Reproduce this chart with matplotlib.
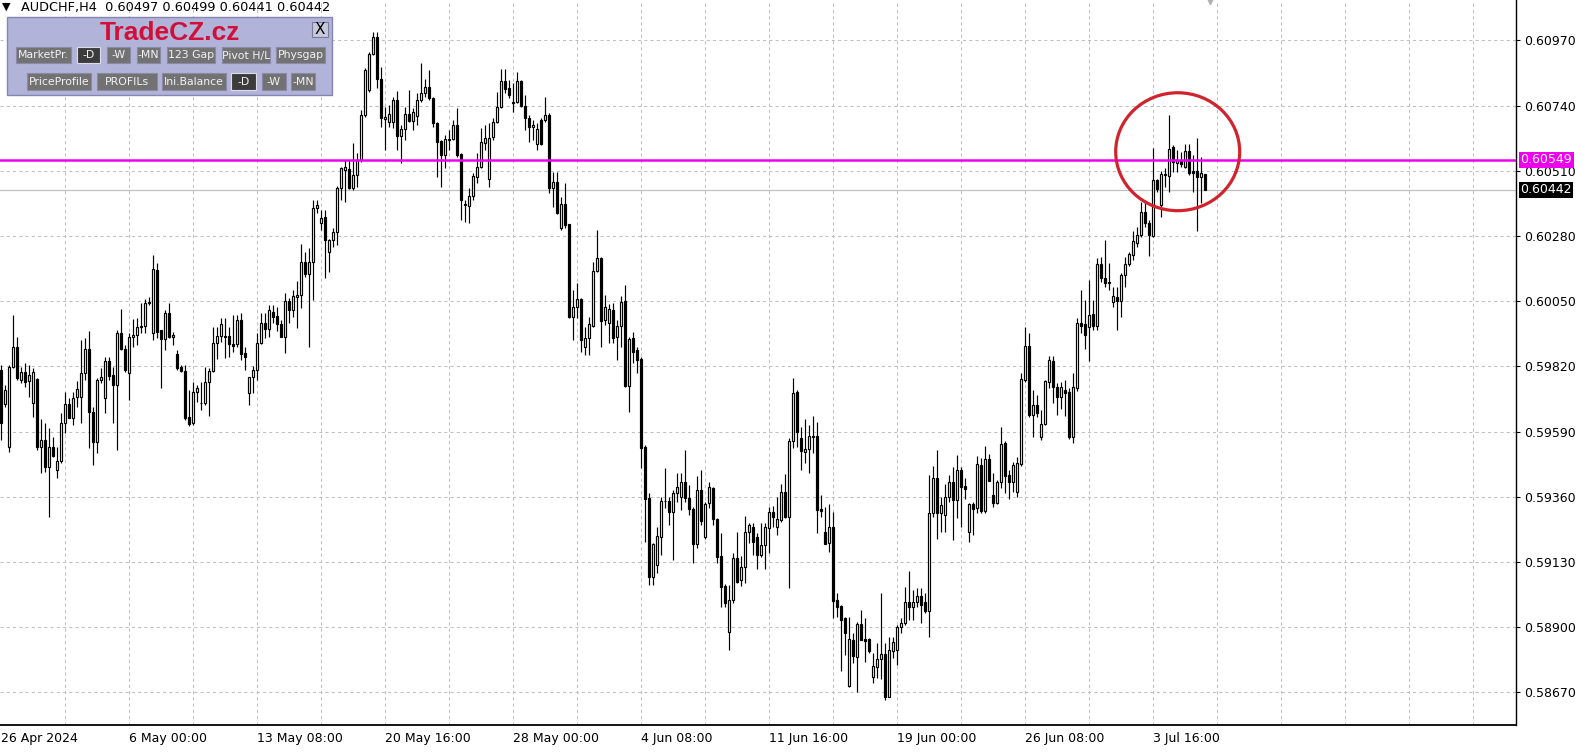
import numpy as np
import pandas as pd
import matplotlib
matplotlib.use("Agg")
import matplotlib.pyplot as plt
from matplotlib.patches import Ellipse, Rectangle

# AUDCHF H4 candles, prices in points (1 point = 0.00001)
opens = [
    59807, 59687, 59535, 59817, 59888, 59772, 59800, 59768, 59690, 59775,
    59535, 59560, 59465, 59535, 59454, 59486, 59620, 59687, 59638, 59712,
    59712, 59796, 59881, 59659, 59553, 59772, 59708, 59838, 59789, 59754,
    59937, 59881, 59796, 59923, 59930, 59958, 59962, 60043, 59937, 60160,
    59948, 59916, 60008, 59923, 59863, 59817, 59803, 59641, 59620, 59729,
    59690, 59690, 59765, 59803, 59902, 59927, 59927, 59927, 59899, 59899,
    59983, 59867, 59726, 59782, 59807, 59902, 59973, 59951, 60011, 59997,
    59969, 59923, 60050, 60019, 60064, 60071, 60188, 60146, 60188, 60378,
    60325, 60347, 60223, 60266, 60294, 60449, 60512, 60516, 60449, 60495,
    60548, 60706, 60795, 60922, 60982, 60833, 60692, 60682, 60682, 60759,
    60632, 60657, 60710, 60685, 60703, 60759, 60784, 60805, 60766, 60678,
    60615, 60565, 60618, 60622, 60671, 60569, 60389, 60385, 60421, 60488,
    60523, 60608, 60481, 60629, 60682, 60735, 60826, 60802, 60752, 60752,
    60826, 60738, 60696, 60664, 60604, 60689, 60689, 60706, 60449, 60470,
    60308, 60392, 60322, 59994, 60029, 60057, 59888, 59920, 59962, 60156,
    60202, 59983, 59973, 60019, 59923, 59962, 60050, 59750, 59920, 59877,
    59846, 59535, 59355, 59077, 59119, 59218, 59345, 59345, 59306, 59373,
    59359, 59412, 59355, 59317, 59193, 59383, 59218, 59338, 59391, 59281,
    59151, 59045, 58882, 58995, 59144, 59066, 59112, 59235, 59253, 59218,
    59154, 59190, 59249, 59306, 59253, 59278, 59376, 59288, 59556, 59729,
    59567, 59518, 59528, 59574, 59574, 59317, 59235, 59197, 59253, 58995,
    58974, 58932, 58692, 58854, 58795, 58911, 58858, 58858, 58724, 58759,
    58787, 58805, 58653, 58816, 58819, 58900, 58914, 58988, 58971, 58988,
    59010, 58988, 58957, 59302, 59426, 59302, 59295, 59359, 59412, 59348,
    59454, 59398, 59235, 59334, 59320, 59472, 59310, 59493, 59366, 59338,
    59412, 59549, 59436, 59412, 59376, 59475, 59772, 59891, 59648, 59683,
    59570, 59616, 59765, 59838, 59747, 59712, 59736, 59729, 59570, 59743,
    59973, 59969, 59958, 60004, 59962, 60181, 60132, 60117, 60047, 60064,
    60050, 60142, 60181, 60213, 60255, 60283, 60364, 60325, 60280, 60477,
    60389, 60495, 60491, 60594, 60537, 60548, 60523, 60579, 60509, 60509,
    60488, 60497,
]
highs = [
    59824, 59754, 59824, 60001, 59923, 59817, 59831, 59824, 59814, 59779,
    59634, 59620, 59602, 59570, 59535, 59655, 59729, 59708, 59729, 59768,
    59913, 59920, 59944, 59676, 59779, 59814, 59853, 59853, 59817, 59948,
    60022, 59895, 59937, 59987, 59990, 60043, 60057, 60064, 60213, 60184,
    59948, 60019, 60043, 59941, 59877, 59824, 59824, 59736, 59765, 59754,
    59765, 59817, 59814, 59958, 59958, 59990, 59990, 59958, 60001, 60001,
    60008, 59888, 59782, 59821, 59937, 60008, 60008, 60036, 60036, 60029,
    59983, 60078, 60061, 60089, 60121, 60251, 60223, 60238, 60407, 60407,
    60371, 60371, 60269, 60308, 60456, 60523, 60548, 60548, 60608, 60572,
    60724, 60872, 60929, 60999, 60999, 60876, 60735, 60742, 60770, 60792,
    60671, 60735, 60795, 60731, 60784, 60890, 60833, 60865, 60770, 60682,
    60618, 60636, 60653, 60689, 60731, 60572, 60407, 60449, 60502, 60572,
    60660, 60671, 60678, 60696, 60787, 60869, 60869, 60830, 60819, 60858,
    60830, 60777, 60706, 60689, 60678, 60696, 60770, 60713, 60505, 60505,
    60417, 60467, 60322, 60089, 60114, 60061, 59958, 59994, 60188, 60301,
    60206, 60071, 60040, 60043, 59983, 60068, 60107, 59923, 59941, 59888,
    59853, 59542, 59373, 59197, 59253, 59359, 59461, 59359, 59383, 59443,
    59443, 59525, 59401, 59324, 59433, 59454, 59341, 59412, 59394, 59285,
    59232, 59052, 59049, 59161, 59235, 59151, 59291, 59267, 59267, 59232,
    59267, 59267, 59324, 59327, 59359, 59405, 59440, 59567, 59779, 59736,
    59606, 59634, 59613, 59645, 59623, 59366, 59324, 59334, 59306, 59020,
    58978, 58936, 58936, 58879, 58918, 58960, 58932, 58861, 58809, 58844,
    59020, 58844, 58865, 58865, 58907, 58932, 59041, 59098, 59031, 59038,
    59038, 59020, 59436, 59468, 59525, 59359, 59405, 59436, 59465, 59507,
    59465, 59426, 59338, 59341, 59503, 59496, 59539, 59511, 59443, 59419,
    59606, 59556, 59454, 59482, 59500, 59796, 59958, 59937, 59736, 59719,
    59666, 59772, 59856, 59856, 59761, 59765, 59772, 59743, 59796, 59990,
    60089, 60054, 60125, 60054, 60202, 60206, 60266, 60184, 60100, 60100,
    60149, 60206, 60223, 60297, 60311, 60400, 60407, 60336, 60590, 60481,
    60509, 60519, 60706, 60601, 60583, 60576, 60604, 60604, 60565, 60625,
    60558, 60499,
]
lows = [
    59560, 59676, 59518, 59814, 59772, 59761, 59747, 59712, 59641, 59525,
    59443, 59447, 59288, 59500, 59426, 59479, 59585, 59638, 59613, 59676,
    59620, 59772, 59532, 59472, 59514, 59761, 59655, 59772, 59620, 59525,
    59877, 59800, 59701, 59888, 59895, 59937, 59937, 60036, 59913, 59920,
    59743, 59877, 59920, 59895, 59807, 59800, 59630, 59609, 59613, 59694,
    59666, 59683, 59645, 59800, 59846, 59906, 59849, 59853, 59870, 59888,
    59842, 59807, 59683, 59726, 59772, 59898, 59920, 59923, 59973, 59944,
    59923, 59867, 59973, 59994, 59955, 60026, 60135, 59888, 60054, 60361,
    60301, 60132, 60153, 60241, 60248, 60407, 60400, 60445, 60442, 60452,
    60541, 60699, 60788, 60918, 60802, 60664, 60583, 60664, 60661, 60583,
    60537, 60618, 60682, 60653, 60671, 60752, 60770, 60759, 60664, 60488,
    60452, 60519, 60583, 60618, 60558, 60336, 60329, 60325, 60407, 60467,
    60519, 60583, 60452, 60618, 60678, 60731, 60784, 60766, 60717, 60749,
    60735, 60653, 60611, 60618, 60583, 60601, 60682, 60431, 60382, 60357,
    60301, 60308, 59990, 59913, 59990, 59870, 59860, 59860, 59958, 60153,
    59888, 59966, 59902, 59902, 59842, 59888, 59747, 59659, 59831, 59796,
    59461, 59200, 59049, 59049, 59091, 59154, 59320, 59260, 59137, 59341,
    59313, 59341, 59296, 59126, 59179, 59260, 59211, 59320, 59260, 59126,
    58971, 58971, 58819, 58985, 59055, 59045, 59055, 59197, 59154, 59105,
    59147, 59105, 59161, 59253, 59225, 59271, 59285, 59038, 59532, 59535,
    59454, 59479, 59443, 59514, 59232, 59288, 59197, 59165, 58932, 58936,
    58745, 58802, 58689, 58773, 58671, 58893, 58777, 58809, 58703, 58720,
    58717, 58643, 58653, 58791, 58766, 58879, 58907, 58925, 58925, 58971,
    58914, 58950, 58865, 59288, 59211, 59235, 59235, 59341, 59207, 59285,
    59253, 59352, 59200, 59225, 59302, 59302, 59302, 59419, 59324, 59334,
    59391, 59373, 59352, 59376, 59359, 59468, 59765, 59641, 59570, 59641,
    59560, 59613, 59743, 59690, 59648, 59669, 59645, 59563, 59549, 59733,
    59937, 59881, 59839, 59948, 59948, 60117, 60100, 60089, 60029, 59948,
    59994, 60100, 60174, 60195, 60241, 60276, 60311, 60209, 60276, 60435,
    60347, 60452, 60435, 60505, 60505, 60523, 60519, 60495, 60435, 60297,
    60396, 60441,
]
closes = [
    59620, 59736, 59817, 59888, 59779, 59800, 59765, 59789, 59800, 59535,
    59560, 59465, 59535, 59503, 59486, 59620, 59687, 59638, 59708, 59740,
    59796, 59881, 59659, 59553, 59772, 59782, 59838, 59786, 59754, 59937,
    59881, 59807, 59923, 59930, 59958, 59962, 60043, 60047, 60163, 59941,
    59916, 60008, 59923, 59930, 59814, 59803, 59638, 59616, 59729, 59743,
    59690, 59765, 59803, 59902, 59927, 59969, 59923, 59899, 59892, 59983,
    59863, 59853, 59782, 59807, 59902, 59973, 59951, 60019, 59994, 59969,
    59923, 60050, 60019, 60068, 60071, 60188, 60146, 60188, 60378, 60389,
    60343, 60266, 60266, 60294, 60449, 60519, 60523, 60449, 60495, 60548,
    60706, 60865, 60922, 60982, 60833, 60696, 60699, 60710, 60759, 60632,
    60657, 60710, 60685, 60717, 60759, 60784, 60805, 60766, 60678, 60611,
    60565, 60622, 60622, 60671, 60565, 60407, 60392, 60421, 60491, 60523,
    60611, 60625, 60625, 60682, 60735, 60826, 60798, 60777, 60749, 60826,
    60738, 60696, 60664, 60671, 60657, 60604, 60706, 60449, 60470, 60361,
    60392, 60318, 59994, 60029, 60057, 59913, 59920, 59969, 60156, 60202,
    59980, 60029, 60022, 59920, 59962, 60047, 59750, 59916, 59870, 59842,
    59532, 59352, 59077, 59193, 59221, 59345, 59345, 59306, 59373, 59394,
    59412, 59355, 59317, 59193, 59383, 59274, 59334, 59394, 59281, 59147,
    59041, 58985, 58995, 59144, 59059, 59112, 59235, 59260, 59200, 59154,
    59190, 59253, 59306, 59288, 59281, 59376, 59288, 59556, 59726, 59588,
    59521, 59528, 59574, 59570, 59313, 59310, 59193, 59253, 58992, 58971,
    58925, 58879, 58858, 58798, 58911, 58854, 58851, 58816, 58763, 58787,
    58805, 58653, 58819, 58847, 58900, 58914, 58988, 58971, 58988, 59010,
    58978, 58957, 59302, 59426, 59302, 59331, 59359, 59412, 59348, 59454,
    59394, 59387, 59334, 59317, 59475, 59310, 59493, 59415, 59338, 59412,
    59546, 59433, 59412, 59472, 59479, 59775, 59891, 59648, 59683, 59655,
    59616, 59768, 59842, 59747, 59712, 59747, 59726, 59570, 59747, 59973,
    59962, 59930, 60001, 59962, 60181, 60132, 60114, 60114, 60068, 60050,
    60142, 60181, 60216, 60262, 60283, 60364, 60325, 60283, 60477, 60445,
    60498, 60498, 60586, 60541, 60548, 60534, 60579, 60502, 60502, 60488,
    60502, 60442,
]
assert len(opens) == len(highs) == len(lows) == len(closes), \
    (len(opens), len(highs), len(lows), len(closes))

first_bar = "2024-04-26 16:00"
price_ticks = [0.58670, 0.58900, 0.59130, 0.59360, 0.59590, 0.59820,
               0.60050, 0.60280, 0.60510, 0.60740, 0.60970]
level_price = 0.60549      # magenta line
bid_price = 0.60442        # last price
header = "AUDCHF,H4  0.60497 0.60499 0.60441 0.60442"

# red circle around the last days (bar index, price)
circle_xy = (294.1, 0.60577)
circle_w = 31.0
circle_h = 0.00416

o = np.array(opens) / 1e5
h = np.array(highs) / 1e5
l = np.array(lows) / 1e5
c = np.array(closes) / 1e5
n = len(o)
idx = np.arange(n)

# H4 bars without weekends
times = pd.date_range(first_bar, periods=800, freq="4h")
times = times[times.dayofweek < 5][:n]
lab_idx = list(range(0, n, 32))
lab_txt = []
for k in lab_idx:
    t = times[k]
    if k == 0:
        lab_txt.append("%d %s" % (t.day, t.strftime("%b %Y")))
    else:
        lab_txt.append("%d %s" % (t.day, t.strftime("%b %H:%M")))

W, H = 1586, 755
fig = plt.figure(figsize=(W / 100, H / 100), dpi=100)
fig.patch.set_facecolor("white")
ax = fig.add_axes([0, 30 / H, 1516 / W, 725 / H])

# x: 4 px per bar, y: 65.2 px per 0.0023
ax.set_xlim(-0.325, 378.675)
ax.set_ylim(0.585547, 0.611122)

grid_kw = dict(color="#c0c0c0", lw=0.75, ls=(0, (3, 3)), zorder=0)
for gx in range(16, 372, 16):
    ax.axvline(gx, **grid_kw)
for gy in price_ticks:
    ax.axhline(gy, **grid_kw)

ax.axhline(bid_price, color="#c0c0c0", lw=0.9, zorder=1)

# candles
ax.vlines(idx, l, h, color="black", lw=0.85, zorder=3)
up = c >= o
body_lo = np.minimum(o, c)
body_hi = np.maximum(o, c)
ax.bar(idx, body_hi - body_lo, bottom=body_lo, width=0.55,
       color=np.where(up, "white", "black"), edgecolor="black",
       linewidth=0.85, zorder=4)

ax.axhline(level_price, color="#ee00ee", lw=1.8, zorder=5)

ax.add_patch(Ellipse(circle_xy, circle_w, circle_h, fill=False,
                     ec="#d1232d", lw=2.3, zorder=6))

# axes look
for s in ["top", "left"]:
    ax.spines[s].set_visible(False)
ax.spines["right"].set_linewidth(1.0)
ax.spines["bottom"].set_linewidth(1.3)
ax.yaxis.tick_right()
ax.set_yticks(price_ticks)
ax.set_yticklabels(["%.5f" % p for p in price_ticks])
ax.tick_params(axis="y", length=3, width=0.8, pad=3, labelsize=9)
ax.set_xticks(lab_idx)
ax.set_xticklabels(lab_txt, ha="left")
ax.tick_params(axis="x", length=0, pad=5, labelsize=9)

# price boxes on the scale
for price, bg in [(level_price, "#ee00ee"), (bid_price, "black")]:
    ax.annotate("%.5f" % price, xy=(1, price), xycoords=("axes fraction", "data"),
                xytext=(3.2, 0), textcoords="offset points", va="center", ha="left",
                fontsize=9, color="white", zorder=10, annotation_clip=False,
                bbox=dict(boxstyle="square,pad=0.12", fc=bg, ec="none"))

# chart shift marker
ax.plot([302.2], [0.61108], marker="v", ms=5, color="#b0b0b0", clip_on=False, zorder=7)

# overlay in pixel coordinates for the header and the panel
ov = fig.add_axes([0, 0, 1, 1])
ov.set_xlim(0, W)
ov.set_ylim(H, 0)
ov.axis("off")

ov.text(6, 7, "\u25bc", fontsize=8, ha="center", va="center")
ov.text(21, 7, header, fontsize=9.3, ha="left", va="center")

ov.add_patch(Rectangle((7, 17), 325, 78, fc="#b2b3d8", ec="#8485b0", lw=1))
ov.text(170, 33, "TradeCZ.cz", fontsize=19, fontweight="bold", color="#d0103a",
        family="Liberation Sans", ha="center", va="center")
ov.add_patch(Rectangle((312, 22), 16, 15, fc="#c8c8dc", ec="#7a7a99", lw=0.8))
ov.text(320, 30, "X", fontsize=11, ha="center", va="center", color="black")

row1 = [("MarketPr.", 16, 71, False), ("-D", 77, 100, True), ("-W", 107, 130, False),
        ("-MN", 137, 160, False), ("123 Gap", 167, 215, False),
        ("Pivot H/L", 222, 270, False), ("Physgap", 276, 325, False)]
row2 = [("PriceProfile", 27, 91, False), ("PROFILs", 97, 157, False),
        ("Ini.Balance", 162, 226, False), ("-D", 231, 256, True),
        ("-W", 262, 286, False), ("-MN", 291, 315, False)]
for row, y0, y1 in [(row1, 47, 63), (row2, 73, 90)]:
    for txt, x0, x1, dark in row:
        fc = "#3c3c3c" if dark else "#727272"
        ec = "#dcdcec" if dark else "#8a8aa8"
        r = Rectangle((x0, y0), x1 - x0, y1 - y0, fc=fc, ec=ec, lw=0.8)
        ov.add_patch(r)
        t = ov.text((x0 + x1) / 2, (y0 + y1) / 2 + 0.5, txt, fontsize=7.8,
                    color="#f2f2f2", ha="center", va="center")
        t.set_clip_path(r)

fig.savefig("out.png", dpi=100, facecolor="white")
